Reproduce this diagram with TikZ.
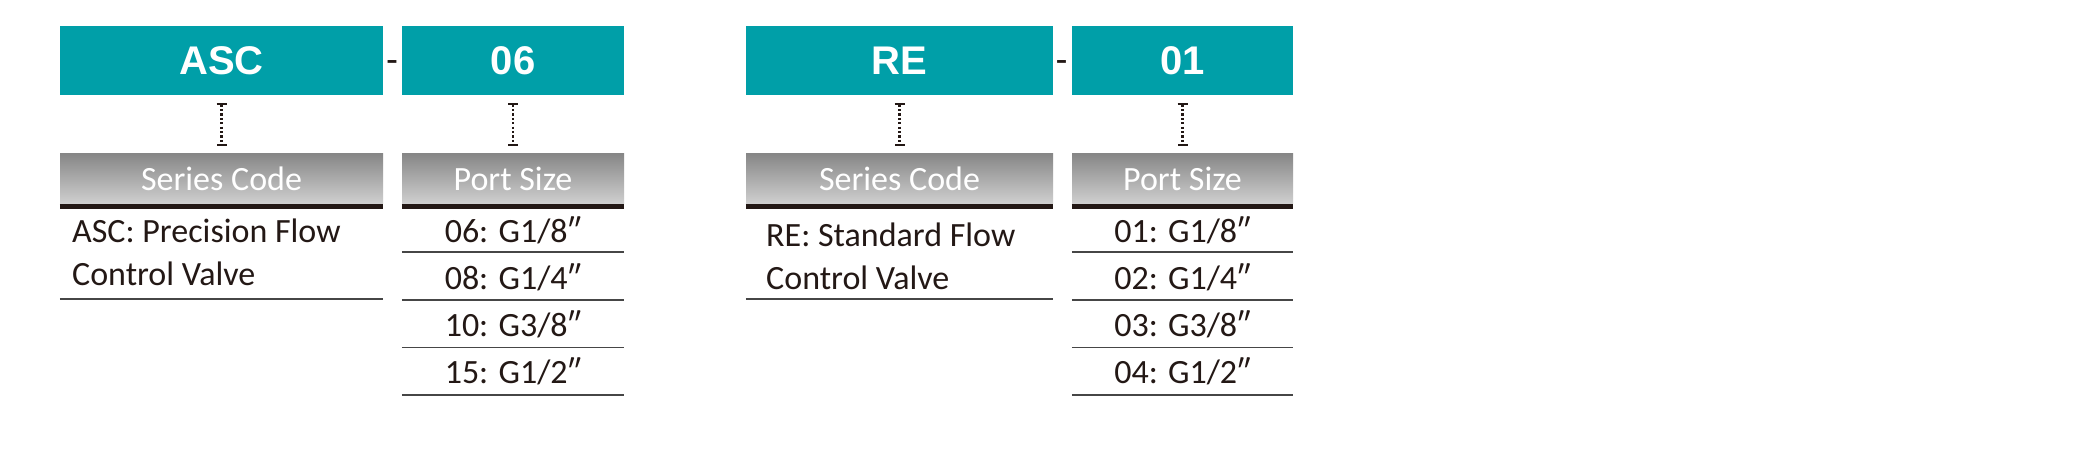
\documentclass[tikz,border=0pt]{standalone}
\usepackage{fontspec}
\setmainfont{Carlito}
\newfontfamily\titlefont{Liberation Sans}
\usetikzlibrary{arrows.meta}
\definecolor{codeteal}{RGB}{0,159,168}
\definecolor{hdtop}{RGB}{135,135,135}
\definecolor{hdbot}{RGB}{208,208,208}
\definecolor{inkdark}{RGB}{35,24,21}
\definecolor{rulegray}{RGB}{70,70,70}
\begin{document}
\begin{tikzpicture}[
        x=1pt, y=-1pt,
        codebox/.style={fill=codeteal, minimum height=69pt, inner sep=0pt, text=white, font=\titlefont\bfseries\fontsize{40}{40}\selectfont},
        headbox/.style={top color=hdtop, bottom color=hdbot, minimum height=50pt, inner sep=0pt, text=white, font=\fontsize{34}{34}\selectfont},
        joiner/.style={text=inkdark, inner sep=0pt, anchor=base, font=\titlefont\fontsize{36}{36}\selectfont},
        ibar/.style={{Bar[width=10pt,line width=2.6pt]}-{Bar[width=10pt,line width=2.6pt]}, inkdark, line width=2.2pt, dash pattern=on 2.2pt off 2.2pt, shorten <=7.5pt, shorten >=7.5pt},
        thickbar/.style={inkdark, line width=5pt},
        rowline/.style={rulegray, line width=1.6pt},
        entry/.style={text=inkdark, inner sep=0pt, font=\fontsize{34}{34}\selectfont}
    ]
    \fill[white] (0,0) rectangle (2100,470);
    \useasboundingbox (0,0) rectangle (2100,470);

    % code boxes
    \node[codebox, minimum width=323pt] (asc) at (221.5,60.5) {ASC};
    \node[codebox, minimum width=222pt] (six) at (513,60.5) {06};
    \node[codebox, minimum width=307pt] (re) at (899.5,60.5) {RE};
    \node[codebox, minimum width=221pt] (one) at (1182.5,60.5) {01};
    \node[joiner] (dashA) at (392,72) {-};
    \node[joiner] (dashB) at (1061.5,72) {-};

    % headers
    \node[headbox, minimum width=323pt] (ascH) at (221.5,179) {Series Code};
    \node[headbox, minimum width=222pt] (sixH) at (513,179) {Port Size};
    \node[headbox, minimum width=307pt] (reH) at (899.5,179) {Series Code};
    \node[headbox, minimum width=221pt] (oneH) at (1182.5,179) {Port Size};
    \foreach \h in {ascH,sixH,reH,oneH}
        \draw[thickbar] ([yshift=-2.5pt]\h.south west) -- ([yshift=-2.5pt]\h.south east);

    \draw[ibar] (asc) -- (ascH);
    \draw[ibar] (six) -- (sixH);
    \draw[ibar] (re) -- (reH);
    \draw[ibar] (one) -- (oneH);

    % series code text
    \node[entry, anchor=base west] (ascD1) at (72,243) {ASC: Precision Flow};
    \node[entry, anchor=base west] (ascD2) at (72,285) {Control Valve};
    \draw[rowline] (ascH.west |- 0,299) -- (ascH.east |- 0,299);
    \node[entry, anchor=base west] (reD1) at (766,247) {RE: Standard Flow};
    \node[entry, anchor=base west] (reD2) at (766,289) {Control Valve};
    \draw[rowline] (reH.west |- 0,299) -- (reH.east |- 0,299);

    % port sizes
    \foreach \t [count=\i, evaluate=\i as \ty using 243+46.8*(\i-1), evaluate=\i as \ly using 252+47.7*(\i-1)] in {{06: G1/8″},{08: G1/4″},{10: G3/8″},{15: G1/2″}} {
        \node[entry, anchor=base] (sixR\i) at (513,\ty) {\t};
        \draw[rowline] (sixH.west |- 0,\ly) -- (sixH.east |- 0,\ly);
    }
    \foreach \t [count=\i, evaluate=\i as \ty using 243+46.8*(\i-1), evaluate=\i as \ly using 252+47.7*(\i-1)] in {{01: G1/8″},{02: G1/4″},{03: G3/8″},{04: G1/2″}} {
        \node[entry, anchor=base] (oneR\i) at (1182.5,\ty) {\t};
        \draw[rowline] (oneH.west |- 0,\ly) -- (oneH.east |- 0,\ly);
    }
\end{tikzpicture}
\end{document}
